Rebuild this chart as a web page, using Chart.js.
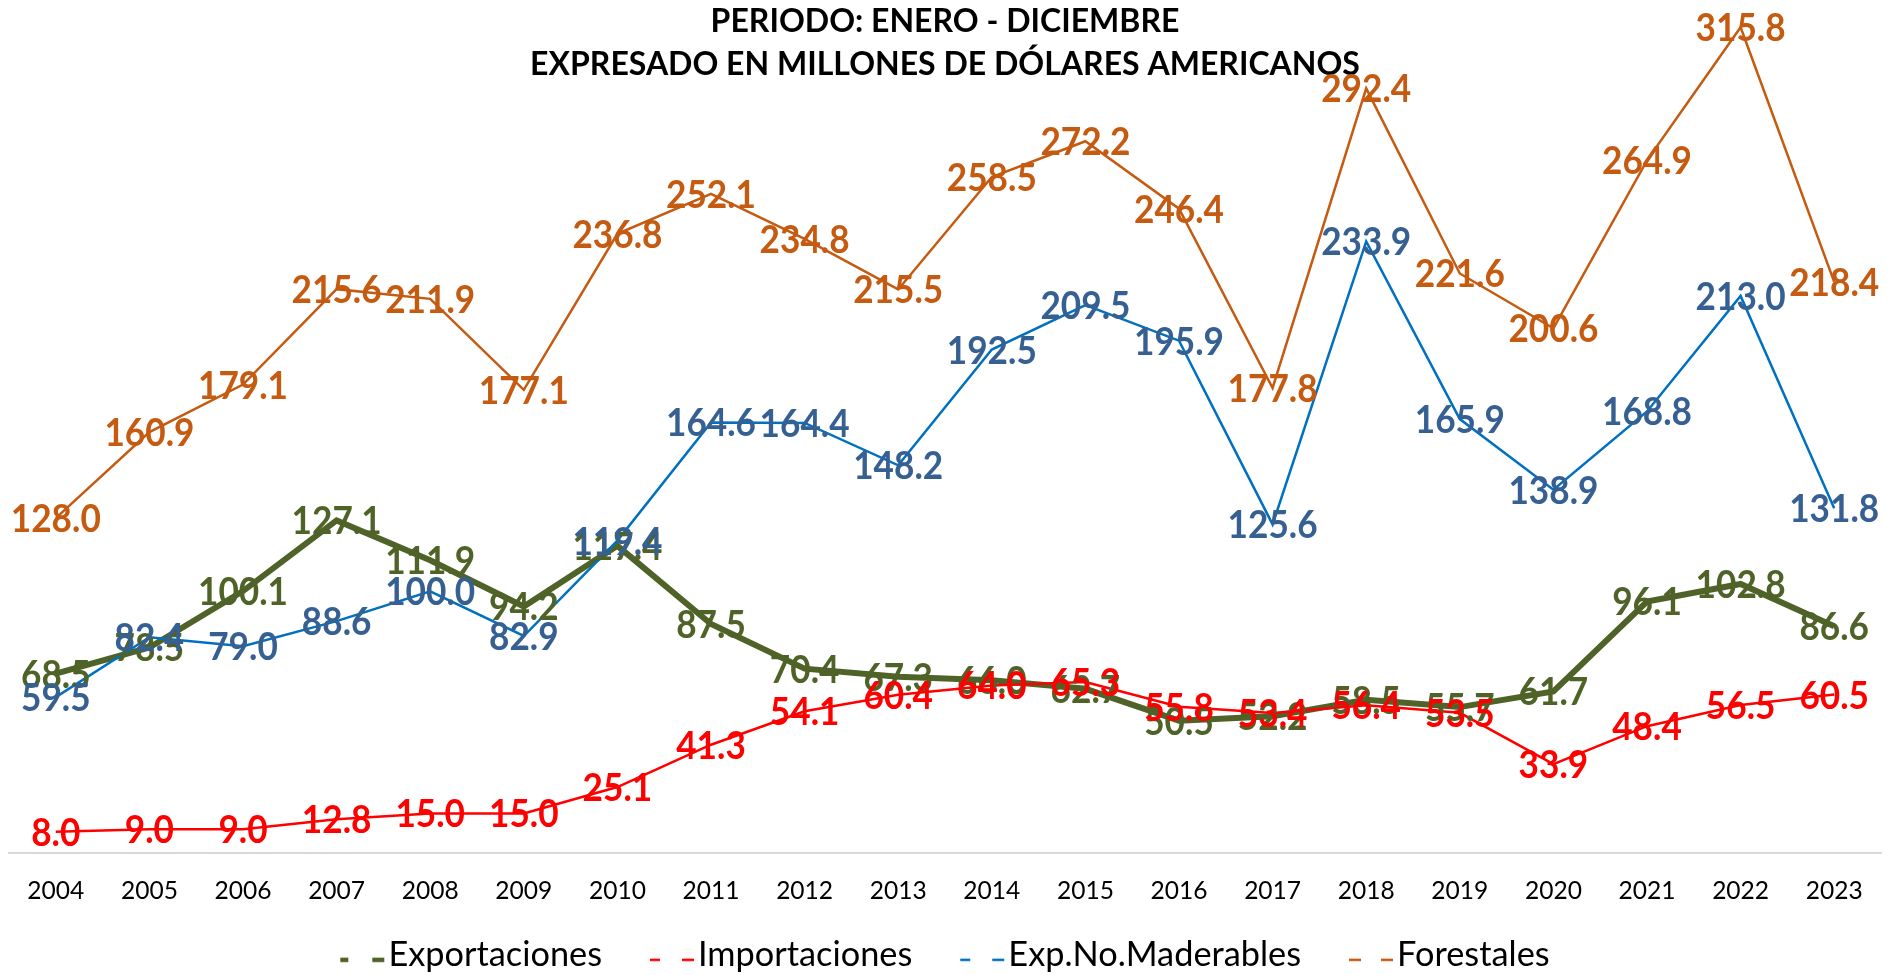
<!DOCTYPE html>
<html>
<head>
<meta charset="utf-8">
<script src="https://cdn.jsdelivr.net/npm/chart.js@4/dist/chart.umd.min.js"></script>
<style>
html,body{margin:0;padding:0;background:#ffffff;}
#wrap{width:1897px;height:975px;position:relative;}
</style>
</head>
<body>
<div id="wrap"><canvas id="c" width="1897" height="975"></canvas></div>
<script>
// ---------- DATA ----------
const years = ['2004','2005','2006','2007','2008','2009','2010','2011','2012','2013','2014','2015','2016','2017','2018','2019','2020','2021','2022','2023'];
const exportaciones   = [68.5, 78.5, 100.1, 127.1, 111.9, 94.2, 117.4, 87.5, 70.4, 67.3, 66.0, 62.7, 50.5, 52.2, 58.5, 55.7, 61.7, 96.1, 102.8, 86.6];
const importaciones   = [8.0, 9.0, 9.0, 12.8, 15.0, 15.0, 25.1, 41.3, 54.1, 60.4, 64.0, 65.3, 55.8, 53.4, 56.4, 53.5, 33.9, 48.4, 56.5, 60.5];
const expNoMaderables = [59.5, 82.4, 79.0, 88.6, 100.0, 82.9, 119.4, 164.6, 164.4, 148.2, 192.5, 209.5, 195.9, 125.6, 233.9, 165.9, 138.9, 168.8, 213.0, 131.8];
const forestales      = [128.0, 160.9, 179.1, 215.6, 211.9, 177.1, 236.8, 252.1, 234.8, 215.5, 258.5, 272.2, 246.4, 177.8, 292.4, 221.6, 200.6, 264.9, 315.8, 218.4];
const seriesNames = ['Exportaciones', 'Importaciones', 'Exp.No.Maderables', 'Forestales'];
const titleLines = ['PERIODO: ENERO - DICIEMBRE', 'EXPRESADO EN MILLONES DE DÓLARES AMERICANOS'];

// ---------- FONT SIZING ----------
const FONT = 'Lato';
const mctx = document.createElement('canvas').getContext('2d');
function textW(text, weight, size) {
  mctx.font = weight + ' ' + size + 'px ' + FONT;
  return mctx.measureText(text).width;
}
function fitSize(text, weight, target) {
  return 100 * target / textW(text, weight, 100);
}
// data labels: taller, slightly condensed glyphs
const labelSize  = 39;
const labelScaleX = 90 / textW('315.8', 'bold', labelSize);
const tickSize   = fitSize('2004', 'normal', 57);
const legendSize = fitSize(seriesNames.join(''), 'normal', 872);
const titleSize  = fitSize(titleLines[1], 'bold', 830);

// ---------- LEGEND ICONS ----------
const PSW = 96 - legendSize / 2; // marker zone (incl. gap between items) before each legend text
function dashIcon(color, lw, d1) {
  const D = PSW / 2 + legendSize / 2;
  const W = Math.round(2 * D);
  const H = 20;
  const cv = document.createElement('canvas');
  cv.width = W; cv.height = H;
  const c = cv.getContext('2d');
  c.strokeStyle = color;
  c.lineWidth = lw;
  c.lineCap = 'butt';
  const yy = H / 2 + 5;
  c.beginPath();
  c.moveTo(W - 48, yy); c.lineTo(W - 48 + d1, yy);
  c.moveTo(W - 16, yy); c.lineTo(W - 4, yy);
  c.stroke();
  return cv;
}

// ---------- DATA LABEL PLUGIN ----------
const pointLabels = {
  id: 'pointLabels',
  afterLayout(chart) {
    // centre the visible legend content (first item carries a blank lead-in)
    if (chart.legend) { chart.legend.left -= 24; chart.legend.right -= 24; }
  },
  afterDatasetsDraw(chart) {
    const ctx = chart.ctx;
    ctx.save();
    ctx.font = 'bold ' + labelSize + 'px ' + FONT;
    ctx.textAlign = 'center';
    ctx.textBaseline = 'alphabetic';
    chart.data.datasets.forEach((ds, i) => {
      const meta = chart.getDatasetMeta(i);
      ctx.fillStyle = ds.labelColor;
      meta.data.forEach((pt, j) => {
        ctx.save();
        ctx.translate(pt.x, pt.y + labelSize * 0.358);
        ctx.scale(labelScaleX, 1);
        ctx.fillText(ds.data[j].toFixed(1), 0, 0);
        ctx.restore();
      });
    });
    ctx.restore();
  }
};

const datasets = [
  { label: seriesNames[0], data: exportaciones,   borderColor: '#4f6228', labelColor: '#4f6228', borderWidth: 6,   order: 4 },
  { label: seriesNames[1], data: importaciones,   borderColor: '#ff0000', labelColor: '#ff0000', borderWidth: 2.5, order: 3 },
  { label: seriesNames[2], data: expNoMaderables, borderColor: '#0070c0', labelColor: '#376092', borderWidth: 2.5, order: 2 },
  { label: seriesNames[3], data: forestales,      borderColor: '#c55a11', labelColor: '#c55a11', borderWidth: 2.5, order: 1 }
].map(d => Object.assign(d, { pointRadius: 0, pointHoverRadius: 0, tension: 0, fill: false, clip: false, backgroundColor: d.borderColor }));

const icons = [dashIcon('#4f6228', 4.5, 8), dashIcon('#ff0000', 2.5, 10), dashIcon('#0070c0', 2.5, 10), dashIcon('#c55a11', 2.5, 12)];

new Chart(document.getElementById('c'), {
  type: 'line',
  data: { labels: years, datasets: datasets },
  plugins: [pointLabels],
  options: {
    responsive: false,
    devicePixelRatio: 1,
    animation: false,
    events: [],
    layout: { autoPadding: false, padding: { left: 9, right: 16, top: 0, bottom: -7 } },
    plugins: {
      tooltip: { enabled: false },
      title: {
        display: true,
        text: titleLines,
        color: '#000000',
        font: { family: FONT, weight: 'bold', size: titleSize, lineHeight: '43px' },
        padding: { top: 0, bottom: 4 }
      },
      legend: {
        display: true,
        position: 'bottom',
        labels: {
          usePointStyle: true,
          pointStyleWidth: PSW,
          padding: 0,
          color: '#000000',
          font: { family: FONT, size: legendSize },
          generateLabels: (chart) => chart.data.datasets.map((ds, i) => ({
            text: ds.label,
            pointStyle: icons[i],
            fillStyle: ds.borderColor,
            strokeStyle: ds.borderColor,
            lineWidth: 0,
            hidden: false,
            datasetIndex: i,
            fontColor: '#000000'
          }))
        }
      }
    },
    scales: {
      x: {
        offset: true,
        grid: { display: false, drawTicks: false },
        border: { display: true, color: '#d9d9d9', width: 2 },
        ticks: { color: '#000000', font: { family: FONT, size: tickSize }, padding: 24, maxRotation: 0, autoSkip: false },
        afterFit(scale) { scale.height = 85; }
      },
      y: {
        display: false,
        min: 0,
        max: 291.8
      }
    }
  }
});
</script>
</body>
</html>
